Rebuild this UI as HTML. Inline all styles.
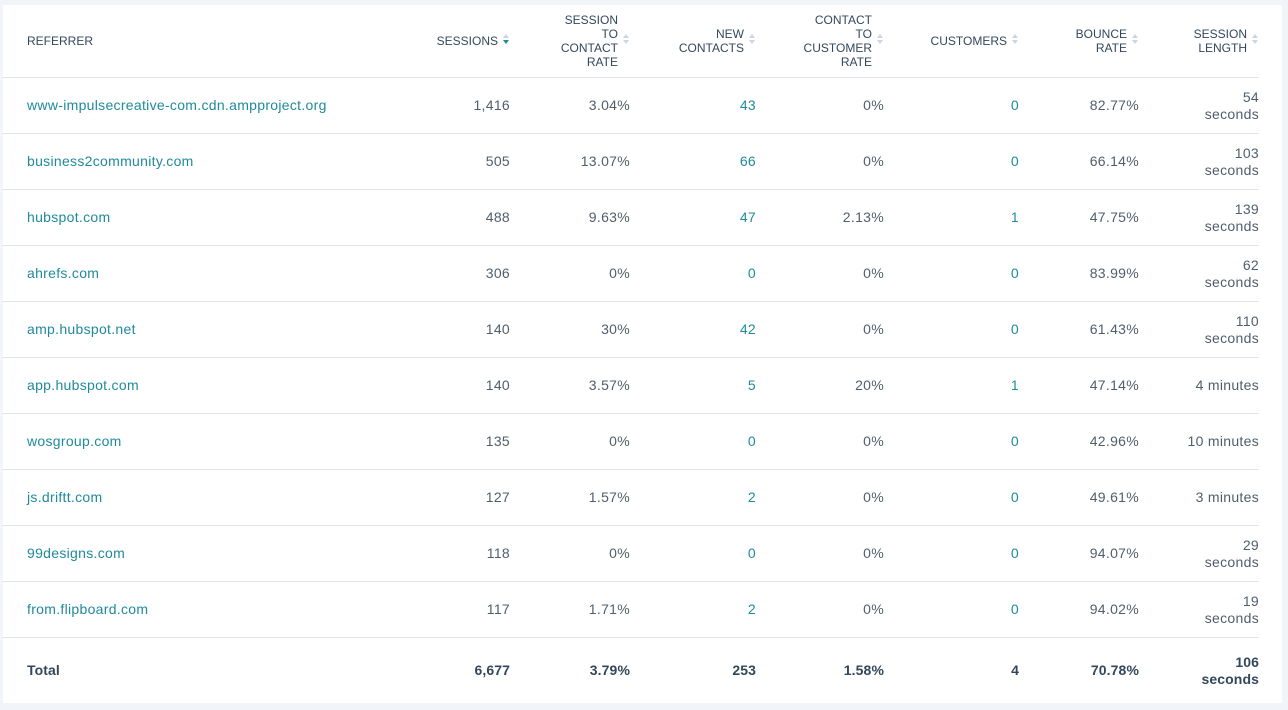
<!DOCTYPE html>
<html><head><style>
body{margin:0;background:#f1f4f8;width:1288px;height:710px;overflow:hidden;font-family:"Liberation Sans",sans-serif;}
.card{position:absolute;left:3px;top:5px;width:1279px;height:698px;background:#fff;}
table{border-collapse:collapse;table-layout:fixed;position:absolute;left:0;top:0;}
td,th{padding:0;text-align:right;color:#505e6c;font-size:14px;}
td{letter-spacing:0.3px;}
th{font-weight:normal;font-size:12px;line-height:14px;height:72px;color:#33475b;border-bottom:1px solid #dfe3eb;}
td{height:55px;line-height:17px;border-bottom:1px solid #dfe3eb;}
tr.tot td{height:65px;border-bottom:none;font-weight:bold;color:#33475b;letter-spacing:0.1px;}
.l{text-align:left;padding-left:24px;}
a{color:#1f8a9c;text-decoration:none;}
.n{color:#1f8a9c;}
.ar{display:inline-block;width:12px;vertical-align:middle;text-align:right;position:relative;top:-2px;}
.ar i{display:block;width:0;height:0;border-left:3.5px solid transparent;border-right:3.5px solid transparent;margin-left:5px;}
.ar i.u{border-bottom:4px solid #cbd6e2;margin-bottom:2px;}
.ar i.d{border-top:4px solid #cbd6e2;}
.ar i.d.on{border-top-color:#1f8a9c;}
.h{display:inline-block;vertical-align:middle;text-align:right;}
</style></head><body><div class="card">
<table>
<colgroup><col style="width:397px"><col style="width:110px"><col style="width:120px"><col style="width:126px"><col style="width:128px"><col style="width:135px"><col style="width:120px"><col style="width:120px"></colgroup>
<tr>
<th class="l">REFERRER</th>
<th><span class="h">SESSIONS</span><span class="ar"><i class="u"></i><i class="d on"></i></span></th>
<th><span class="h">SESSION<br>TO<br>CONTACT<br>RATE</span><span class="ar"><i class="u"></i><i class="d"></i></span></th>
<th><span class="h">NEW<br>CONTACTS</span><span class="ar"><i class="u"></i><i class="d"></i></span></th>
<th><span class="h">CONTACT<br>TO<br>CUSTOMER<br>RATE</span><span class="ar"><i class="u"></i><i class="d"></i></span></th>
<th><span class="h">CUSTOMERS</span><span class="ar"><i class="u"></i><i class="d"></i></span></th>
<th><span class="h">BOUNCE<br>RATE</span><span class="ar"><i class="u"></i><i class="d"></i></span></th>
<th><span class="h">SESSION<br>LENGTH</span><span class="ar"><i class="u"></i><i class="d"></i></span></th>
</tr>
<tr><td class="l"><a>www-impulsecreative-com.cdn.ampproject.org</a></td><td>1,416</td><td>3.04%</td><td class="n">43</td><td>0%</td><td class="n">0</td><td>82.77%</td><td>54<br>seconds</td></tr>
<tr><td class="l"><a>business2community.com</a></td><td>505</td><td>13.07%</td><td class="n">66</td><td>0%</td><td class="n">0</td><td>66.14%</td><td>103<br>seconds</td></tr>
<tr><td class="l"><a>hubspot.com</a></td><td>488</td><td>9.63%</td><td class="n">47</td><td>2.13%</td><td class="n">1</td><td>47.75%</td><td>139<br>seconds</td></tr>
<tr><td class="l"><a>ahrefs.com</a></td><td>306</td><td>0%</td><td class="n">0</td><td>0%</td><td class="n">0</td><td>83.99%</td><td>62<br>seconds</td></tr>
<tr><td class="l"><a>amp.hubspot.net</a></td><td>140</td><td>30%</td><td class="n">42</td><td>0%</td><td class="n">0</td><td>61.43%</td><td>110<br>seconds</td></tr>
<tr><td class="l"><a>app.hubspot.com</a></td><td>140</td><td>3.57%</td><td class="n">5</td><td>20%</td><td class="n">1</td><td>47.14%</td><td>4 minutes</td></tr>
<tr><td class="l"><a>wosgroup.com</a></td><td>135</td><td>0%</td><td class="n">0</td><td>0%</td><td class="n">0</td><td>42.96%</td><td>10 minutes</td></tr>
<tr><td class="l"><a>js.driftt.com</a></td><td>127</td><td>1.57%</td><td class="n">2</td><td>0%</td><td class="n">0</td><td>49.61%</td><td>3 minutes</td></tr>
<tr><td class="l"><a>99designs.com</a></td><td>118</td><td>0%</td><td class="n">0</td><td>0%</td><td class="n">0</td><td>94.07%</td><td>29<br>seconds</td></tr>
<tr><td class="l"><a>from.flipboard.com</a></td><td>117</td><td>1.71%</td><td class="n">2</td><td>0%</td><td class="n">0</td><td>94.02%</td><td>19<br>seconds</td></tr>
<tr class="tot"><td class="l">Total</td><td>6,677</td><td>3.79%</td><td>253</td><td>1.58%</td><td>4</td><td>70.78%</td><td>106<br>seconds</td></tr>
</table></div></body></html>
